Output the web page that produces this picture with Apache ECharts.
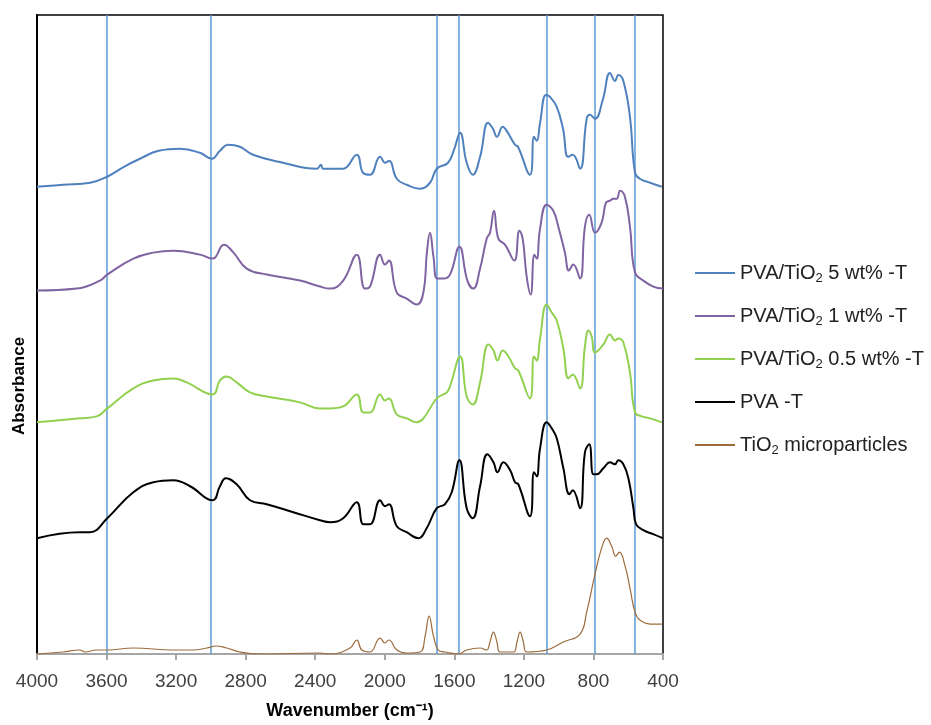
<!DOCTYPE html>
<html>
<head>
<meta charset="utf-8">
<script src="https://cdn.jsdelivr.net/npm/echarts@6.0.0/dist/echarts.min.js"></script>
<style>
  html, body { margin: 0; padding: 0; background: #fff; }
  #chart { width: 931px; height: 725px; }
</style>
</head>
<body>
<div id="chart"></div>
<script>
// FTIR spectra, [wavenumber, absorbance (a.u., stacked)]
const pva5 = [[4000,2.34],[3850,2.35],[3695,2.36],[3597,2.39],[3500,2.44],[3408,2.48],[3300,2.52],[3178,2.53],[3063,2.51],[2994,2.48],[2948,2.52],[2902,2.55],[2833,2.54],[2758,2.50],[2585,2.46],[2390,2.43],[2367,2.45],[2355,2.43],[2315,2.43],[2240,2.43],[2161,2.50],[2125,2.41],[2085,2.40],[2027,2.49],[1998,2.46],[1975,2.47],[1931,2.38],[1874,2.35],[1797,2.33],[1740,2.36],[1701,2.43],[1636,2.46],[1600,2.53],[1567,2.61],[1529,2.46],[1494,2.40],[1452,2.49],[1406,2.66],[1378,2.63],[1355,2.59],[1322,2.64],[1299,2.62],[1251,2.55],[1234,2.54],[1165,2.40],[1142,2.59],[1126,2.57],[1107,2.66],[1073,2.80],[1050,2.79],[1011,2.74],[975,2.63],[946,2.49],[919,2.50],[877,2.43],[839,2.68],[820,2.70],[791,2.68],[745,2.78],[705,2.91],[676,2.87],[657,2.90],[628,2.87],[590,2.69],[561,2.41],[533,2.38],[474,2.36],[407,2.34]];
const pva1 = [[4000,1.82],[3772,1.83],[3638,1.87],[3596,1.90],[3446,1.98],[3331,2.01],[3216,2.02],[3063,2.00],[2990,1.98],[2925,2.05],[2870,2.01],[2794,1.93],[2679,1.90],[2488,1.87],[2373,1.84],[2315,1.83],[2239,1.87],[2161,2.00],[2114,1.83],[2085,1.84],[2027,2.00],[1999,1.95],[1976,1.97],[1931,1.81],[1874,1.78],[1816,1.75],[1778,1.81],[1758,2.01],[1740,2.11],[1720,1.99],[1698,1.88],[1663,1.88],[1625,1.90],[1571,2.04],[1525,1.87],[1491,1.83],[1452,1.93],[1414,2.08],[1395,2.11],[1372,2.22],[1347,2.08],[1309,2.05],[1255,1.97],[1226,2.12],[1207,2.08],[1184,1.89],[1161,1.80],[1140,2.00],[1126,1.98],[1107,2.13],[1069,2.25],[1031,2.22],[1002,2.14],[964,2.01],[941,1.92],[916,1.95],[877,1.88],[849,2.14],[824,2.20],[791,2.11],[753,2.16],[728,2.26],[705,2.27],[686,2.28],[666,2.28],[647,2.32],[619,2.29],[590,2.14],[561,1.91],[513,1.87],[456,1.84],[400,1.83]];
const pva05 = [[4000,1.16],[3753,1.18],[3657,1.19],[3596,1.23],[3446,1.33],[3331,1.37],[3216,1.38],[3139,1.36],[2990,1.30],[2948,1.37],[2910,1.39],[2852,1.36],[2775,1.31],[2679,1.29],[2488,1.26],[2373,1.23],[2315,1.23],[2239,1.24],[2161,1.30],[2123,1.21],[2085,1.21],[2027,1.30],[1999,1.27],[1976,1.28],[1931,1.20],[1874,1.18],[1816,1.16],[1778,1.18],[1701,1.28],[1644,1.31],[1625,1.34],[1567,1.49],[1529,1.29],[1494,1.25],[1452,1.36],[1404,1.55],[1375,1.52],[1352,1.47],[1322,1.52],[1289,1.49],[1251,1.43],[1232,1.42],[1165,1.28],[1142,1.49],[1126,1.47],[1107,1.58],[1069,1.75],[1040,1.71],[1011,1.67],[973,1.53],[944,1.38],[919,1.40],[877,1.33],[849,1.54],[829,1.62],[810,1.59],[791,1.51],[743,1.55],[705,1.60],[676,1.57],[657,1.58],[628,1.56],[590,1.41],[561,1.21],[522,1.19],[474,1.18],[407,1.16]];
const pva = [[4000,0.58],[3753,0.61],[3695,0.61],[3596,0.68],[3446,0.81],[3331,0.86],[3216,0.87],[3120,0.84],[2990,0.77],[2948,0.84],[2914,0.88],[2852,0.85],[2775,0.77],[2679,0.75],[2526,0.71],[2373,0.67],[2315,0.66],[2239,0.68],[2161,0.76],[2123,0.65],[2085,0.65],[2027,0.77],[1999,0.74],[1976,0.75],[1931,0.64],[1874,0.61],[1807,0.58],[1759,0.63],[1701,0.73],[1654,0.75],[1615,0.81],[1571,0.97],[1529,0.73],[1494,0.68],[1452,0.84],[1410,1.00],[1375,0.96],[1352,0.91],[1318,0.96],[1279,0.92],[1251,0.86],[1232,0.85],[1165,0.69],[1142,0.91],[1126,0.89],[1107,1.03],[1069,1.16],[1040,1.13],[1011,1.08],[973,0.93],[938,0.80],[919,0.82],[877,0.73],[849,1.01],[824,1.05],[801,0.90],[782,0.90],[743,0.93],[705,0.96],[676,0.95],[657,0.97],[628,0.95],[599,0.88],[570,0.73],[555,0.65],[513,0.62],[456,0.60],[402,0.58]];
const tio2 = [[4000,0.00],[3850,0.01],[3753,0.02],[3724,0.01],[3657,0.02],[3596,0.02],[3446,0.03],[3216,0.02],[3101,0.02],[3024,0.03],[2967,0.04],[2910,0.03],[2833,0.01],[2718,0.00],[2373,0.005],[2315,0.00],[2200,0.03],[2161,0.07],[2132,0.02],[2085,0.01],[2027,0.08],[1999,0.055],[1976,0.07],[1931,0.02],[1874,0.005],[1797,0.01],[1768,0.09],[1745,0.19],[1720,0.09],[1692,0.02],[1654,0.01],[1577,0.00],[1529,0.02],[1452,0.03],[1414,0.02],[1395,0.06],[1375,0.11],[1355,0.06],[1337,0.01],[1260,0.01],[1240,0.06],[1222,0.11],[1203,0.06],[1184,0.01],[1069,0.02],[973,0.06],[877,0.10],[839,0.21],[791,0.40],[753,0.53],[724,0.58],[695,0.54],[672,0.49],[651,0.51],[618,0.44],[590,0.33],[561,0.21],[533,0.17],[474,0.15],[407,0.15]];

// marked band positions (cm-1)
const bandLines = [3600, 3000, 1700, 1575, 1070, 790, 560];

const names = ['PVA/TiO2 5 wt% -T', 'PVA/TiO2 1 wt% -T', 'PVA/TiO2 0.5 wt% -T', 'PVA -T', 'TiO2 microparticles'];
const colors = ['#4F81BD', '#8064A2', '#92D050', '#000000', '#9C6B3C'];
const spectra = [pva5, pva1, pva05, pva, tio2];

const font = 'Liberation Sans, Arial, sans-serif';

const series = spectra.map((d, i) => ({
    name: names[i],
    type: 'line',
    data: d,
    symbol: 'none',
    smooth: 0.45,
    lineStyle: { color: colors[i], width: i == 4 ? 1.2 : 2 },
    itemStyle: { color: colors[i] },
    emphasis: { disabled: true }
}));

series[0].markLine = {
    silent: true,
    symbol: ['none', 'none'],
    label: { show: false },
    lineStyle: { color: '#5B9BD5', width: 1.5, type: 'solid' },
    emphasis: { disabled: true },
    z: 1,
    data: bandLines.map(v => ({ xAxis: v }))
};

const chart = echarts.init(document.getElementById('chart'));
chart.setOption({
    animation: false,
    backgroundColor: '#fff',
    grid: {
        left: 37, right: 268, top: 15, bottom: 70,
        show: true, borderColor: '#000', borderWidth: 1.5
    },
    xAxis: {
        type: 'value',
        min: 400, max: 4000, interval: 400,
        inverse: true,
        name: 'Wavenumber (cm\u207B\u00B9)',
        nameLocation: 'middle',
        nameGap: 48,
        nameTextStyle: { fontFamily: font, fontSize: 18, fontWeight: 'bold', color: '#000' },
        axisLine: { lineStyle: { color: '#a6a6a6', width: 2 } },
        axisTick: { show: true, length: 6, lineStyle: { color: '#a6a6a6', width: 2 } },
        axisLabel: { fontFamily: font, fontSize: 19, color: '#404040', margin: 18, formatter: v => String(v) },
        splitLine: { show: false }
    },
    yAxis: {
        type: 'value',
        min: 0, max: 3.2,
        axisLine: { show: true, lineStyle: { color: '#000', width: 2 } },
        axisTick: { show: false },
        axisLabel: { show: false },
        splitLine: { show: false }
    },
    legend: {
        data: names,
        orient: 'vertical',
        left: 690, top: 256,
        icon: 'rect',
        itemWidth: 40, itemHeight: 2, itemGap: 19,
        textStyle: {
            fontFamily: font, fontSize: 20, lineHeight: 24, color: '#222',
            rich: { s: { fontFamily: font, fontSize: 13, lineHeight: 13, verticalAlign: 'bottom', color: '#222' } }
        },
        formatter: name => name.replace('TiO2', 'TiO{s|2}')
    },
    graphic: [{
        type: 'text',
        x: 19, y: 386,
        rotation: Math.PI / 2,
        style: {
            text: 'Absorbance',
            font: 'bold 17px ' + font,
            fill: '#000',
            align: 'center',
            verticalAlign: 'middle'
        }
    }],
    series: series
});
</script>
</body>
</html>
